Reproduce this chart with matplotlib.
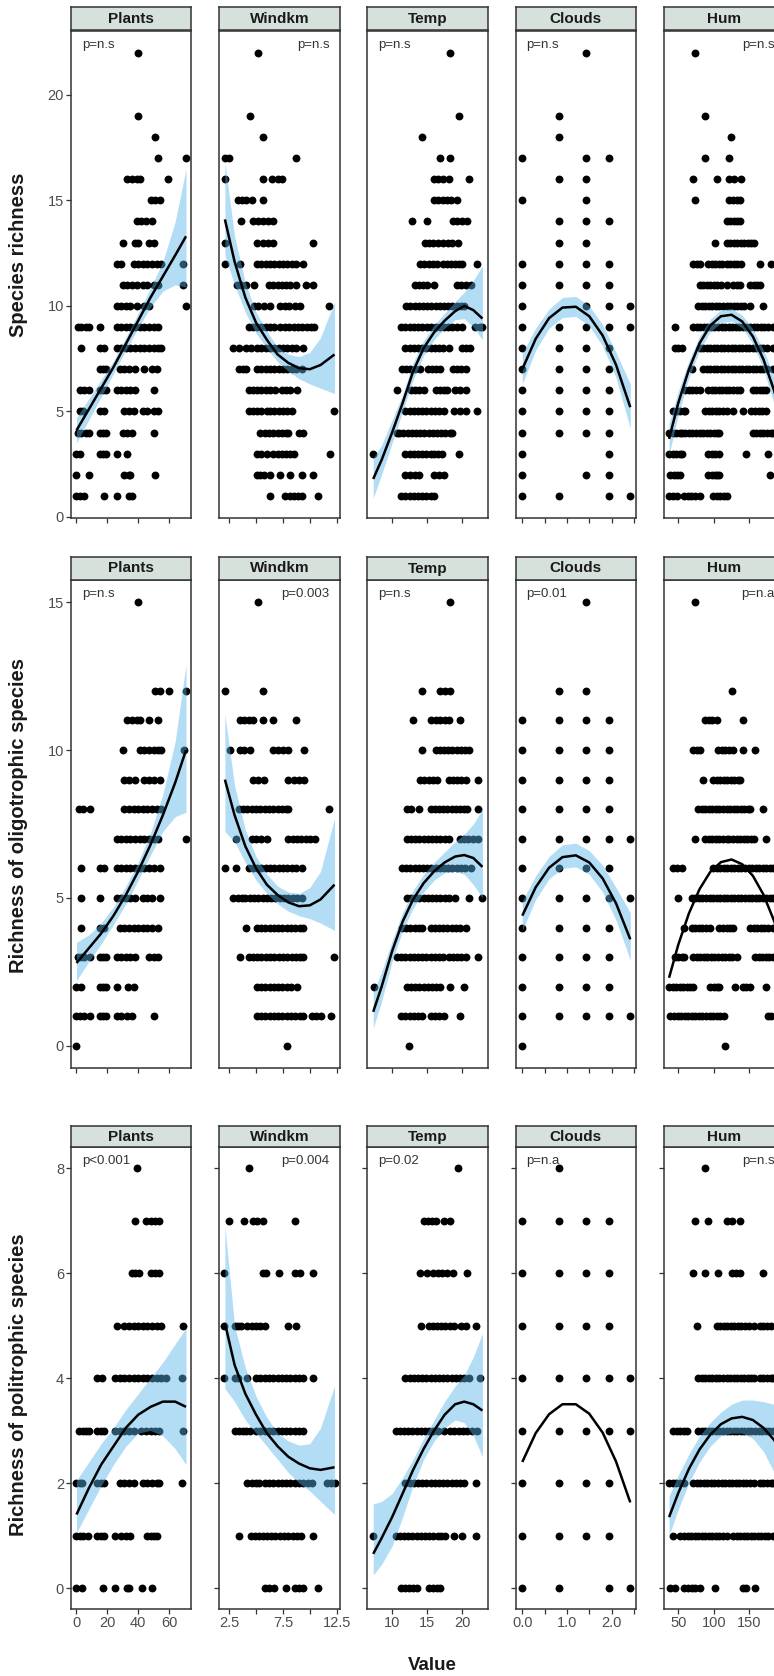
import matplotlib.pyplot as plt

plt.rcParams['font.family'] = ['Liberation Sans', 'DejaVu Sans']

W, H = 774, 1676

variables = ['Plants', 'Windkm', 'Temp', 'Clouds', 'Hum']
x_limits = [(-3.55, 74.55), (1.57, 12.78), (6.47, 23.68), (-0.15, 2.55), (29.6, 199.3)]
x_ticks = [[0, 20, 40, 60], [2.5, 5, 7.5, 10, 12.5], [10, 15, 20],
           [0, 0.5, 1, 1.5, 2, 2.5], [50, 100, 150]]
x_ticklabels = [['0', '20', '40', '60'], ['2.5', '', '7.5', '', '12.5'], ['10', '15', '20'],
                ['0.0', '', '1.0', '', '2.0', ''], ['50', '100', '150']]

row_labels = ['Species richness', 'Richness of oligotrophic species',
              'Richness of politrophic species']
y_limits = [(-0.05, 23.05), (-0.75, 15.75), (-0.4, 8.4)]
y_ticks = [[0, 5, 10, 15, 20], [0, 5, 10, 15], [0, 2, 4, 6, 8]]

p_labels = [['p=n.s', 'p=n.s', 'p=n.s', 'p=n.s', 'p=n.s'],
            ['p=n.s', 'p=0.003', 'p=n.s', 'p=0.01', 'p=n.a'],
            ['p<0.001', 'p=0.004', 'p=0.02', 'p=n.a', 'p=n.s']]
p_right = [False, True, False, False, True]

# x grids where the fitted curves were read
plants_grid = [0, 8, 16, 24, 32, 40, 48, 56, 64, 71]
windkm_grid = [2.1, 3, 4, 5, 6, 7, 8, 9, 10, 11, 12.3]
temp_grid = [7.3, 8.5, 10, 11.5, 13, 14.5, 16, 17.5, 19, 20.3, 21.6, 22.9]
clouds_grid = [0, 0.3, 0.6, 0.9, 1.2, 1.5, 1.8, 2.1, 2.42]
hum_grid = [37, 50, 65, 80, 95, 110, 125, 140, 155, 170, 185, 200]

# ---- species richness: points (y, [x...])
rich_plants = [
    (22, [40]), (19, [40]), (18, [51]), (17, [53, 71]), (16, [33, 36, 39, 41, 59]),
    (15, [48, 51, 54]), (14, [39, 42, 45, 49]), (13, [30, 38, 40, 47, 50]),
    (12, [26, 29, 37, 40, 43, 46, 49, 52, 55, 69]),
    (11, [30, 33, 36, 39, 43, 46, 50, 53, 69]),
    (10, [26, 29, 32, 35, 39, 44, 47, 71]),
    (9, [1, 3, 6, 8, 15, 26, 29, 32, 35, 38, 41, 44, 47, 50, 53]),
    (8, [3, 15, 18, 26, 29, 32, 35, 38, 41, 44, 47, 50, 53, 55]),
    (7, [15, 17, 19, 28, 31, 34, 38, 44, 49, 52]),
    (6, [2, 5, 8, 15, 17, 19, 26, 29, 32, 35, 38, 50]),
    (5, [2, 4, 15, 18, 31, 34, 37, 43, 46, 50, 53]),
    (4, [1, 3, 6, 8, 15, 17, 19, 30, 33, 36, 50]),
    (3, [0, 2, 15, 17, 19, 26, 33]), (2, [0, 8, 31, 34, 35, 51]),
    (1, [0, 2, 5, 18, 26, 34, 36]),
]
rich_windkm = [
    (22, [5.15]), (19, [4.4]), (18, [5.6]), (17, [2.1, 2.5, 8.7]),
    (16, [2.1, 5.6, 6.5, 7.0, 7.4]), (15, [3.3, 3.7, 4.1, 4.6, 5.6]),
    (14, [3.6, 4.75, 5.15, 5.6, 6.1, 6.6]), (13, [2.1, 5.1, 5.6, 6.1, 6.6, 10.25]),
    (12, [2.1, 3.5, 5.1, 5.5, 5.9, 6.3, 6.7, 7.1, 7.5, 7.9, 8.3, 8.7, 9.4]),
    (11, [3.2, 3.6, 4.1, 4.8, 6.2, 6.6, 7.0, 7.4, 7.8, 8.2, 8.7, 9.6, 10.25]),
    (10, [4.8, 5.2, 5.7, 6.3, 7.25, 7.7, 8.1, 8.6, 9.1, 11.8]),
    (9, [4.3, 4.7, 5.1, 5.5, 5.9, 6.3, 6.7, 7.25, 7.7, 8.1, 8.5, 8.9, 9.3, 9.7, 10.1, 10.4]),
    (8, [2.9, 3.4, 4.1, 4.5, 5.05, 5.5, 5.9, 6.3, 6.7, 7.1, 7.5, 7.9, 8.3, 8.7, 9.4]),
    (7, [3.4, 3.8, 4.1, 5.05, 5.5, 5.9, 6.3, 6.7, 7.1, 7.5, 7.9, 8.3, 8.7, 9.3]),
    (6, [4.3, 4.7, 5.1, 5.5, 5.9, 6.3, 6.8, 7.4, 7.8, 8.2, 8.8]),
    (5, [4.3, 4.7, 5.1, 5.5, 6.0, 6.3, 6.7, 7.1, 7.5, 7.9, 8.3, 12.25]),
    (4, [5.4, 5.8, 6.2, 6.6, 7.0, 7.4, 7.8, 8.0, 9.0, 9.4]),
    (3, [5.05, 5.5, 6.0, 6.6, 7.0, 7.4, 7.8, 8.2, 8.5, 11.9]),
    (2, [5.05, 5.4, 5.7, 6.3, 7.25, 8.2, 9.3, 10.25]),
    (1, [6.25, 7.7, 8.2, 8.5, 8.9, 9.3, 10.8]),
]
rich_temp = [
    (22, [18.3]), (19, [19.6]), (18, [14.3]), (17, [16.9, 18.3]),
    (16, [16.0, 16.6, 17.2, 18.1, 21.0]), (15, [16.0, 16.6, 17.2, 17.8, 18.4, 19.3]),
    (14, [12.9, 15.0, 18.7, 19.3, 20.0, 20.7]),
    (13, [14.7, 15.3, 15.9, 16.5, 17.3, 18.0, 18.6, 19.4]),
    (12, [14.0, 14.6, 15.2, 15.8, 16.4, 17.2, 17.8, 18.4, 19.0, 19.6, 20.0, 22.1]),
    (11, [13.2, 13.8, 14.4, 15.0, 16.0, 19.2, 19.8, 20.5, 21.2]),
    (10, [12.0, 12.6, 13.2, 13.8, 14.4, 15.0, 15.6, 16.2, 16.8, 17.4, 18.0, 18.6, 19.2, 19.8, 20.2]),
    (9, [11.3, 11.9, 12.5, 13.1, 13.7, 14.3, 15.0, 15.6, 16.2, 16.8, 17.4, 18.0, 18.6, 19.2,
         20.0, 21.9, 22.5, 22.9]),
    (8, [11.9, 12.5, 13.1, 13.7, 14.3, 14.9, 15.5, 16.1, 16.7, 17.3, 18.1, 20.0, 20.6, 21.1]),
    (7, [11.4, 12.0, 12.6, 13.3, 14.0, 15.1, 15.7, 16.3, 16.9, 18.7, 19.3, 19.9, 20.5]),
    (6, [10.7, 12.7, 13.3, 13.9, 14.5, 16.2, 16.8, 17.4, 17.9, 19.0, 19.7, 20.5]),
    (5, [11.9, 12.5, 13.1, 13.7, 14.3, 14.9, 15.5, 16.1, 16.7, 17.4, 18.9, 19.7, 20.5, 22.1]),
    (4, [10.7, 11.0, 11.6, 12.2, 12.8, 13.4, 14.0, 14.6, 15.2, 15.8, 16.4, 17.0, 17.6, 18.2, 18.6]),
    (3, [7.3, 11.9, 12.5, 13.1, 13.7, 14.3, 14.9, 15.5, 16.0, 16.6, 17.1, 19.6]),
    (2, [11.9, 12.5, 13.2, 13.8, 16.0, 16.7, 17.4]),
    (1, [11.3, 11.9, 12.5, 13.1, 13.7, 14.3, 14.9, 15.5, 16.0]),
]
rich_clouds = [
    (22, [1.43]), (19, [0.82]), (18, [0.82]), (17, [0, 1.43, 1.95]), (16, [0.82, 1.43]),
    (15, [0, 1.43]), (14, [0.82, 1.43, 1.95]), (13, [0.82, 1.43]),
    (12, [0, 0.82, 1.43, 1.95]), (11, [0, 0.82, 1.43, 1.95]), (10, [0, 1.43, 1.95, 2.42]),
    (9, [0, 0.82, 1.43, 1.95, 2.42]), (8, [0, 0.82, 1.43, 1.95]), (7, [0, 0.82, 1.43, 1.95]),
    (6, [0, 0.82, 1.43, 1.95]), (5, [0, 0.82, 1.43, 1.95]), (4, [0, 0.82, 1.43, 1.95]),
    (3, [0, 1.95]), (2, [0, 1.43, 1.95]), (1, [0, 0.82, 1.95, 2.42]),
]
rich_hum = [
    (22, [73]), (19, [88]), (18, [124]), (17, [88, 122]), (16, [71, 105, 122, 128, 139]),
    (15, [73, 122, 127, 132, 137]), (14, [118, 123, 128, 133, 137]),
    (13, [102, 118, 123, 128, 133, 138, 143, 148, 152, 156]),
    (12, [71, 76, 80, 92, 97, 102, 107, 112, 118, 123, 128, 133, 139, 165, 181]),
    (11, [80, 85, 90, 95, 100, 105, 110, 118, 127, 132, 137, 151, 156, 161, 165]),
    (10, [78, 83, 88, 93, 98, 103, 108, 113, 118, 123, 128, 133, 138, 143, 151, 169]),
    (9, [45, 71, 76, 81, 86, 91, 96, 101, 106, 111, 116, 121, 126, 131, 136, 141, 146, 151,
         156, 161, 166, 171, 176, 183]),
    (8, [45, 50, 55, 80, 85, 90, 95, 100, 105, 110, 115, 120, 125, 130, 135, 140, 145, 150,
         155, 160, 165, 170, 175, 183]),
    (7, [69, 85, 90, 95, 100, 105, 110, 115, 120, 125, 130, 135, 140, 145, 150, 155, 160,
         165, 170, 175, 183]),
    (6, [60, 65, 70, 75, 80, 92, 97, 102, 107, 112, 117, 122, 127, 132, 137, 155, 160, 165,
         170, 174]),
    (5, [43, 48, 53, 58, 60, 88, 93, 98, 103, 108, 113, 118, 127, 141, 153, 158, 163, 168, 174]),
    (4, [37, 42, 47, 52, 55, 60, 65, 70, 75, 80, 85, 90, 95, 100, 105, 108, 155, 160, 165,
         170, 175, 180, 183]),
    (3, [37, 42, 47, 52, 55, 92, 97, 102, 108, 146, 176]),
    (2, [39, 44, 48, 53, 92, 97, 102, 104, 108, 179]),
    (1, [37, 42, 48, 58, 63, 68, 73, 80, 99, 104, 109, 114, 118]),
]

# ---- oligotrophic species: points
oligo_plants = [
    (15, [40]), (12, [51, 54, 60, 71]), (11, [33, 36, 39, 41, 47, 53]),
    (10, [30, 41, 44, 47, 50, 53, 55, 69.5]), (9, [31, 34, 38, 44, 47, 50, 54]),
    (8, [1.5, 4, 8.5, 31, 34, 37, 40, 43, 46, 49, 52, 55]),
    (7, [26, 29, 32, 35, 38, 41, 44, 47, 50, 53, 71]),
    (6, [3, 15, 18, 26, 29, 32, 35, 38, 41, 44, 47, 50, 54]),
    (5, [3, 15, 26, 29, 32, 35, 38, 43, 46, 49, 54]),
    (4, [3, 15, 18, 28, 31, 34, 37, 40, 43, 46, 49, 53]),
    (3, [1, 3, 5, 8.5, 15, 17, 19, 26, 29, 32, 35, 38, 47, 50, 53]),
    (2, [0, 3, 15, 17, 19, 26, 33.5, 37]),
    (1, [0, 2, 5, 8.5, 15, 17, 19, 26, 29, 33, 36, 50.5]), (0, [0]),
]
oligo_windkm = [
    (15, [5.15]), (12, [2.1, 5.6]), (11, [3.5, 3.9, 4.3, 4.75, 5.6, 6.6, 8.7]),
    (10, [2.55, 3.5, 3.9, 4.4, 6.6, 7.0, 7.5, 8.0, 9.5]),
    (9, [4.75, 5.2, 5.7, 8.0, 8.5, 9.0, 9.5]),
    (8, [3.4, 3.8, 4.2, 4.6, 5.0, 5.4, 5.8, 6.2, 6.6, 7.0, 7.4, 7.8, 8.0, 11.8]),
    (7, [3.1, 4.6, 5.0, 5.5, 6.0, 8.0, 8.4, 8.8, 9.2, 9.6, 10.0, 10.5]),
    (6, [2.1, 3.1, 4.3, 4.7, 5.1, 5.5, 5.9, 6.3, 6.7, 7.1, 7.5, 7.9, 8.3, 8.7, 9.3]),
    (5, [2.9, 3.3, 3.7, 4.0, 4.4, 4.8, 5.2, 5.6, 6.0, 6.4, 6.8, 7.2, 7.6, 8.0, 8.4, 8.8, 9.3]),
    (4, [4.05, 5.05, 5.45, 5.85, 6.25, 6.65, 7.05, 7.45, 7.85, 8.25, 8.65, 9.05, 9.4]),
    (3, [3.5, 4.3, 4.7, 5.1, 5.5, 5.9, 6.3, 6.7, 7.1, 7.5, 7.9, 8.3, 8.7, 9.1, 9.4, 12.25]),
    (2, [5.05, 5.45, 5.85, 6.25, 6.65, 7.05, 7.45, 7.85, 8.25, 8.8]),
    (1, [5.05, 5.45, 5.85, 6.25, 6.65, 7.05, 7.45, 7.85, 8.25, 8.65, 9.05, 9.4, 10.2, 10.6,
         11.0, 12.0]),
    (0, [7.9]),
]
oligo_temp = [
    (15, [18.3]), (12, [14.3, 16.9, 17.6, 18.3]), (11, [13.0, 15.5, 16.2, 16.9, 17.5, 18.1, 19.7]),
    (10, [14.3, 16.2, 16.8, 17.4, 18.0, 18.6, 19.2, 19.8, 20.4, 21.0]),
    (9, [14.0, 14.6, 15.2, 15.8, 16.4, 18.1, 18.7, 19.3, 19.9, 20.5, 22.2]),
    (8, [12.1, 12.7, 13.8, 15.5, 16.1, 16.7, 17.3, 17.9, 18.5, 19.1, 19.7, 20.3, 20.7, 22.2]),
    (7, [12.1, 12.7, 13.3, 13.9, 14.5, 15.1, 15.7, 16.3, 16.9, 17.5, 18.1, 19.7, 20.3, 20.9,
         21.5, 22.2]),
    (6, [11.4, 12.0, 12.6, 13.2, 13.8, 14.4, 15.0, 15.6, 16.2, 16.8, 17.4, 18.0, 18.6, 19.2,
         19.8, 20.4, 21.2]),
    (5, [12.1, 12.7, 13.3, 13.9, 14.5, 15.1, 15.7, 16.3, 16.9, 17.5, 18.1, 19.0, 21.0, 22.9]),
    (4, [11.4, 12.0, 12.6, 13.2, 13.8, 14.3, 15.5, 16.1, 16.7, 17.3, 17.9, 18.5, 19.1, 19.7, 20.5]),
    (3, [10.7, 11.3, 11.9, 12.5, 13.1, 13.7, 14.3, 14.9, 15.5, 16.1, 16.7, 17.3, 18.1, 18.7,
         19.3, 19.9, 20.5, 22.2]),
    (2, [7.4, 12.1, 12.7, 13.3, 13.9, 14.5, 15.1, 15.7, 16.3, 16.9, 18.3, 20.2]),
    (1, [11.3, 11.9, 12.5, 13.1, 13.7, 14.3, 15.5, 16.1, 16.7, 17.4, 19.7]),
    (0, [12.4]),
]
oligo_clouds = [
    (15, [1.43]), (12, [0.82, 1.43]), (11, [0, 0.82, 1.43, 1.95]), (10, [0, 0.82, 1.43, 1.95]),
    (9, [0, 0.82, 1.43, 1.95]), (8, [0, 0.82, 1.43, 1.95]), (7, [0, 0.82, 1.43, 1.95, 2.42]),
    (6, [0, 0.82, 1.43, 1.95]), (5, [0, 0.82, 1.43, 1.95, 2.42]), (4, [0, 0.82, 1.43, 1.95]),
    (3, [0, 0.82, 1.43, 1.95]), (2, [0, 0.82, 1.43, 1.95]), (1, [0, 0.82, 1.43, 1.95, 2.42]),
    (0, [0]),
]
oligo_hum = [
    (15, [73.5]), (12, [125]), (11, [88, 93, 98, 104, 141]),
    (10, [71, 76, 80, 106, 111, 116, 121, 127, 141, 158]),
    (9, [85, 99, 104, 109, 114, 119, 124, 129, 134, 137]),
    (8, [78, 83, 88, 93, 98, 103, 108, 113, 118, 123, 128, 133, 138, 143, 148, 151, 170]),
    (7, [73.5, 88, 93, 98, 103, 108, 113, 118, 122, 127, 132, 137, 142, 147, 152, 156, 174]),
    (6, [43, 48, 55, 99, 104, 109, 114, 119, 124, 129, 134, 139, 144, 149, 154, 159, 164,
         169, 174, 179, 183]),
    (5, [49, 69, 74, 79, 84, 89, 94, 99, 104, 109, 114, 119, 124, 129, 134, 139, 144, 149,
         154, 159, 164, 169, 174, 179, 183]),
    (4, [58, 69, 74, 79, 84, 89, 95, 108, 113, 118, 123, 127, 151, 156, 161, 166, 171, 176, 183]),
    (3, [45, 50, 55, 58, 71, 76, 81, 86, 91, 96, 101, 106, 111, 116, 121, 126, 132, 158, 163,
         168, 173, 178, 183]),
    (2, [37, 42, 47, 52, 57, 62, 67, 71, 95, 100, 105, 108, 130, 141, 146, 151, 173]),
    (1, [39, 44, 49, 54, 59, 64, 69, 74, 79, 84, 89, 94, 99, 104, 109, 114, 176, 181]),
    (0, [116]),
]

# ---- politrophic species: points
poli_plants = [
    (8, [39]), (7, [38, 45, 48, 51, 53.5]), (6, [36, 38, 40.5, 48, 51, 53.5]),
    (5, [26, 31, 34, 37, 40, 43, 46, 49, 52, 54.5, 69]),
    (4, [13.4, 16.7, 25, 28, 31, 34, 37, 40, 43, 46, 49, 52, 54.5, 58, 68.6]),
    (3, [1.5, 4, 6, 8, 13.4, 16, 18, 25, 28, 31, 34, 37, 42, 45, 48, 51, 53.5, 69]),
    (2, [0, 2, 3.7, 13.4, 16, 18, 28, 31, 34, 37, 43, 46, 49, 52, 53.5, 68.6]),
    (1, [0, 2, 4, 7.4, 13.4, 16, 18, 25, 29, 32, 35, 45.5, 48, 50, 52]),
    (0, [0, 3.7, 17, 25, 33, 34, 42.6, 48.7]),
]
poli_windkm = [
    (8, [4.3]), (7, [2.5, 3.9, 4.7, 5.1, 5.6, 8.6]), (6, [2.0, 5.6, 5.9, 7.1, 8.6, 9.1, 10.25]),
    (5, [2.0, 3.0, 3.3, 3.6, 4.2, 4.6, 5.0, 5.4, 5.8, 8.0, 8.75]),
    (4, [2.0, 3.0, 3.3, 4.2, 5.0, 5.4, 5.8, 6.2, 6.6, 7.0, 7.4, 7.8, 8.2, 8.6, 9.0, 9.4, 10.25]),
    (3, [3.0, 3.4, 3.8, 4.1, 4.4, 5.0, 5.4, 5.8, 6.2, 6.6, 7.0, 7.4, 7.8, 8.2, 8.6, 9.0, 9.4]),
    (2, [4.2, 4.6, 5.0, 5.3, 5.8, 6.2, 6.6, 7.0, 7.4, 7.8, 8.2, 8.6, 9.0, 9.4, 9.8, 10.2,
         11.6, 12.0, 12.3]),
    (1, [3.4, 4.5, 4.9, 5.3, 5.6, 6.0, 6.4, 6.8, 7.2, 7.6, 8.0, 8.4, 8.8, 9.2, 10.25]),
    (0, [5.8, 6.2, 6.7, 7.8, 8.6, 9.0, 9.4, 10.8]),
]
poli_temp = [
    (8, [19.4]), (7, [14.5, 15.1, 15.7, 16.2, 17.4, 18.3]),
    (6, [14.0, 15.0, 15.9, 16.5, 17.1, 17.9, 18.7, 20.7]),
    (5, [14.1, 15.2, 15.8, 16.4, 17.0, 17.6, 18.2, 18.8, 19.8, 20.5, 22.0]),
    (4, [11.9, 12.5, 13.1, 13.7, 14.3, 14.9, 15.5, 16.1, 16.7, 17.3, 17.9, 18.5, 19.1, 19.7,
         20.3, 21.0, 22.6]),
    (3, [10.5, 11.1, 11.7, 12.3, 12.9, 13.5, 14.1, 14.7, 15.3, 15.9, 16.5, 17.4, 18.3, 18.9,
         19.5, 20.1, 20.7, 21.4, 22.1]),
    (2, [11.9, 12.5, 13.1, 13.7, 14.3, 14.9, 15.5, 16.1, 16.7, 17.3, 17.9, 18.5, 19.1, 19.7,
         20.2, 22.0]),
    (1, [7.3, 10.5, 11.1, 11.7, 12.3, 12.9, 13.5, 14.1, 14.7, 15.3, 15.9, 16.5, 17.0, 17.6,
         18.8, 20.0, 22.0]),
    (0, [11.2, 11.8, 12.4, 13.0, 13.6, 15.2, 15.8, 16.4, 16.9]),
]
poli_clouds = [
    (8, [0.82]), (7, [0, 0.82, 1.43, 1.95]), (6, [0, 0.82, 1.43, 1.95]),
    (5, [0, 0.82, 1.43, 1.95]), (4, [0, 0.82, 1.43, 1.95, 2.42]),
    (3, [0, 0.82, 1.43, 1.95, 2.42]), (2, [0, 0.82, 1.43, 1.95]), (1, [0, 0.82, 1.43, 1.95]),
    (0, [0, 0.82, 1.95, 2.42]),
]
poli_hum = [
    (8, [88]), (7, [73.5, 92, 118, 125, 137]), (6, [71, 88, 106, 125, 131, 137, 170]),
    (5, [77, 104, 109, 114, 119, 124, 129, 134, 139, 144, 149, 156, 165, 170, 175, 181]),
    (4, [78, 83, 88, 93, 98, 103, 108, 113, 118, 123, 128, 133, 138, 143, 148, 153, 156,
         165, 170, 175, 180, 183]),
    (3, [43, 48, 53, 58, 62, 78, 83, 88, 93, 98, 103, 108, 113, 118, 123, 128, 133, 138,
         143, 148, 153, 158, 163, 168, 173, 178, 183]),
    (2, [37, 42, 47, 52, 58, 71, 76, 81, 86, 91, 96, 101, 106, 111, 116, 121, 126, 131, 136,
         141, 146, 151, 156, 165, 170, 175, 180, 183]),
    (1, [43, 53, 58, 63, 68, 73, 78, 83, 88, 93, 98, 103, 108, 113, 118, 127, 132, 137, 142,
         147, 152, 157, 162, 167, 172, 177, 183]),
    (0, [39, 46, 58, 63, 69, 74, 80, 102, 141, 146, 158]),
]

# ---- fitted curves (line, lower and upper band), read on the grids above
rich_plants_fit = [4.1, 5.1, 6.1, 7.1, 8.2, 9.3, 10.4, 11.4, 12.4, 13.3]
rich_plants_lo = [3.5, 4.6, 5.7, 6.8, 7.9, 8.95, 9.95, 10.7, 11.0, 10.9]
rich_plants_hi = [4.7, 5.6, 6.5, 7.4, 8.5, 9.65, 10.85, 12.1, 14.0, 16.5]
rich_windkm_fit = [14.1, 12.1, 10.4, 9.2, 8.4, 7.7, 7.3, 7.05, 7.0, 7.2, 7.7]
rich_windkm_lo = [12.4, 11.0, 9.7, 8.7, 8.0, 7.35, 6.9, 6.55, 6.3, 6.1, 5.85]
rich_windkm_hi = [16.8, 13.3, 11.1, 9.7, 8.8, 8.05, 7.7, 7.6, 7.8, 8.5, 10.2]
rich_temp_fit = [1.8, 2.7, 4.0, 5.4, 6.9, 8.0, 8.75, 9.3, 9.75, 10.0, 9.8, 9.4]
rich_temp_lo = [0.9, 2.0, 3.5, 5.0, 6.5, 7.65, 8.4, 8.95, 9.35, 9.4, 9.0, 8.4]
rich_temp_hi = [2.8, 3.4, 4.6, 5.8, 7.3, 8.35, 9.1, 9.65, 10.2, 10.65, 11.2, 11.9]
rich_clouds_fit = [7.0, 8.44, 9.42, 9.92, 9.96, 9.51, 8.6, 7.21, 5.2]
rich_clouds_lo = [6.3, 7.9, 8.95, 9.45, 9.5, 9.05, 8.1, 6.6, 4.2]
rich_clouds_hi = [7.75, 8.95, 9.85, 10.4, 10.45, 10.0, 9.1, 7.8, 6.3]
rich_hum_fit = [3.7, 5.4, 7.0, 8.23, 9.07, 9.51, 9.58, 9.26, 8.55, 7.46, 5.98, 4.12]
rich_hum_lo = [2.95, 4.85, 6.6, 7.9, 8.77, 9.21, 9.28, 8.96, 8.2, 7.01, 5.33, 3.22]
rich_hum_hi = [4.45, 5.95, 7.4, 8.56, 9.37, 9.81, 9.88, 9.56, 8.9, 7.91, 6.63, 5.02]

oligo_plants_fit = [2.8, 3.3, 3.8, 4.4, 5.1, 5.9, 6.8, 7.8, 8.9, 10.0]
oligo_plants_lo = [2.2, 2.85, 3.45, 4.1, 4.8, 5.6, 6.45, 7.25, 7.75, 7.9]
oligo_plants_hi = [3.5, 3.75, 4.15, 4.7, 5.4, 6.2, 7.2, 8.5, 10.3, 12.9]
oligo_windkm_fit = [9.0, 7.8, 6.75, 6.0, 5.45, 5.1, 4.85, 4.72, 4.75, 4.95, 5.45]
oligo_windkm_lo = [7.25, 6.9, 6.2, 5.6, 5.15, 4.8, 4.55, 4.4, 4.3, 4.15, 3.9]
oligo_windkm_hi = [11.2, 8.8, 7.3, 6.4, 5.8, 5.4, 5.2, 5.15, 5.35, 5.9, 7.7]
oligo_temp_fit = [1.15, 2.0, 3.2, 4.2, 4.95, 5.5, 5.9, 6.2, 6.4, 6.45, 6.35, 6.05]
oligo_temp_lo = [0.6, 1.5, 2.85, 3.9, 4.65, 5.2, 5.6, 5.85, 5.9, 5.8, 5.45, 5.0]
oligo_temp_hi = [1.8, 2.5, 3.55, 4.5, 5.25, 5.8, 6.2, 6.55, 6.9, 7.15, 7.5, 8.0]
oligo_clouds_fit = [4.4, 5.36, 6.02, 6.38, 6.44, 6.2, 5.66, 4.82, 3.6]
oligo_clouds_lo = [3.9, 4.95, 5.65, 6.0, 6.05, 5.8, 5.2, 4.25, 2.9]
oligo_clouds_hi = [4.9, 5.75, 6.4, 6.8, 6.85, 6.6, 6.1, 5.35, 4.5]
oligo_hum_fit = [2.3, 3.42, 4.48, 5.3, 5.88, 6.21, 6.3, 6.14, 5.75, 5.11, 4.22, 3.1]

poli_plants_fit = [1.4, 1.9, 2.35, 2.7, 3.05, 3.3, 3.45, 3.55, 3.55, 3.45]
poli_plants_lo = [1.05, 1.5, 1.95, 2.35, 2.7, 2.95, 3.0, 2.9, 2.65, 2.35]
poli_plants_hi = [2.05, 2.4, 2.75, 3.05, 3.4, 3.7, 4.0, 4.3, 4.65, 4.95]
poli_windkm_fit = [5.05, 4.25, 3.7, 3.3, 2.95, 2.7, 2.5, 2.37, 2.28, 2.25, 2.3]
poli_windkm_lo = [3.8, 3.55, 3.2, 2.95, 2.7, 2.45, 2.2, 2.0, 1.85, 1.65, 1.4]
poli_windkm_hi = [6.9, 5.0, 4.2, 3.65, 3.25, 2.95, 2.8, 2.72, 2.75, 3.05, 3.85]
poli_temp_fit = [0.65, 0.95, 1.35, 1.8, 2.25, 2.65, 3.0, 3.3, 3.5, 3.55, 3.5, 3.38]
poli_temp_lo = [0.25, 0.45, 0.8, 1.35, 1.95, 2.45, 2.8, 3.05, 3.2, 3.15, 2.9, 2.5]
poli_temp_hi = [1.6, 1.65, 1.8, 2.1, 2.45, 2.85, 3.2, 3.55, 3.85, 4.05, 4.4, 4.85]
poli_clouds_fit = [2.4, 2.95, 3.31, 3.5, 3.5, 3.32, 2.96, 2.41, 1.63]
poli_hum_fit = [1.35, 1.81, 2.27, 2.64, 2.92, 3.12, 3.23, 3.26, 3.2, 3.05, 2.82, 2.5]
poli_hum_lo = [1.0, 1.5, 2.0, 2.4, 2.7, 2.9, 2.95, 2.95, 2.85, 2.6, 2.2, 1.7]
poli_hum_hi = [1.75, 2.15, 2.55, 2.9, 3.15, 3.35, 3.5, 3.58, 3.58, 3.55, 3.5, 3.4]

grids = [plants_grid, windkm_grid, temp_grid, clouds_grid, hum_grid]
points = [
    [rich_plants, rich_windkm, rich_temp, rich_clouds, rich_hum],
    [oligo_plants, oligo_windkm, oligo_temp, oligo_clouds, oligo_hum],
    [poli_plants, poli_windkm, poli_temp, poli_clouds, poli_hum],
]
fits = [
    [(rich_plants_fit, rich_plants_lo, rich_plants_hi),
     (rich_windkm_fit, rich_windkm_lo, rich_windkm_hi),
     (rich_temp_fit, rich_temp_lo, rich_temp_hi),
     (rich_clouds_fit, rich_clouds_lo, rich_clouds_hi),
     (rich_hum_fit, rich_hum_lo, rich_hum_hi)],
    [(oligo_plants_fit, oligo_plants_lo, oligo_plants_hi),
     (oligo_windkm_fit, oligo_windkm_lo, oligo_windkm_hi),
     (oligo_temp_fit, oligo_temp_lo, oligo_temp_hi),
     (oligo_clouds_fit, oligo_clouds_lo, oligo_clouds_hi),
     (oligo_hum_fit, None, None)],
    [(poli_plants_fit, poli_plants_lo, poli_plants_hi),
     (poli_windkm_fit, poli_windkm_lo, poli_windkm_hi),
     (poli_temp_fit, poli_temp_lo, poli_temp_hi),
     (poli_clouds_fit, None, None),
     (poli_hum_fit, poli_hum_lo, poli_hum_hi)],
]

# layout in pixels (top, strip bottom, panel bottom) per row
row_boxes = [(7.5, 30.5, 518), (557, 580, 1068), (1126, 1147, 1609)]
label_centers = [255, 815, 1385]
panel_left0, panel_pitch, panel_w = 71, 148.2, 120.5

DARK = '#333333'
TICK_GREY = '#4D4D4D'

fig = plt.figure(figsize=(W / 100, H / 100), dpi=100)

for r in range(3):
    top, strip_bot, bot = row_boxes[r]
    for c, var in enumerate(variables):
        left = panel_left0 + panel_pitch * c
        ax = fig.add_axes([left / W, 1 - bot / H, panel_w / W, (bot - strip_bot) / H])
        ax.set_xlim(*x_limits[c])
        ax.set_ylim(*y_limits[r])

        xs, ys = [], []
        for yv, row_x in points[r][c]:
            xs += row_x
            ys += [yv] * len(row_x)
        ax.scatter(xs, ys, s=32, color='black', linewidths=0, zorder=2)

        line, lo, hi = fits[r][c]
        if lo is not None:
            ax.fill_between(grids[c], lo, hi, color='#56B4E9', alpha=0.45, lw=0, zorder=3)
        ax.plot(grids[c], line, color='black', lw=1.8, zorder=4, solid_capstyle='butt')

        for s in ax.spines.values():
            s.set_color(DARK)
            s.set_linewidth(1.1)

        ax.set_xticks(x_ticks[c])
        if r == 2:
            ax.set_xticklabels(x_ticklabels[c])
        else:
            ax.set_xticklabels([])
        ax.set_yticks(y_ticks[r])
        if c == 0:
            ax.set_yticklabels([str(v) for v in y_ticks[r]])
            ax.tick_params(axis='y', length=3.5, width=0.9, color=DARK,
                           labelsize=10.5, labelcolor=TICK_GREY, pad=1.5)
        else:
            ax.set_yticklabels([])
            ax.tick_params(axis='y', length=3.5 if r == 2 else 0, width=0.9, color=DARK)
        ax.tick_params(axis='x', length=3.5, width=0.9, color=DARK,
                       labelsize=10.5, labelcolor=TICK_GREY, pad=1.5)

        if p_right[c]:
            ax.text(1 - 10 / panel_w, 1 - 14 / (bot - strip_bot), p_labels[r][c],
                    transform=ax.transAxes, ha='right', va='center', fontsize=9.5, color=DARK)
        else:
            ax.text(11 / panel_w, 1 - 14 / (bot - strip_bot), p_labels[r][c],
                    transform=ax.transAxes, ha='left', va='center', fontsize=9.5, color=DARK)

        sax = fig.add_axes([left / W, 1 - strip_bot / H, panel_w / W, (strip_bot - top) / H])
        sax.set_facecolor('#D7E1DC')
        sax.set_xticks([])
        sax.set_yticks([])
        for s in sax.spines.values():
            s.set_color(DARK)
            s.set_linewidth(1.1)
        sax.text(0.5, 0.5, var, transform=sax.transAxes, ha='center', va='center',
                 fontsize=11, fontweight='bold', color='#1A1A1A')

    fig.text(19 / W, 1 - label_centers[r] / H, row_labels[r], rotation=90,
             ha='center', va='center', fontsize=14.5, fontweight='bold', color='#1A1A1A')

fig.text(432 / W, 1 - 1665 / H, 'Value', ha='center', va='center',
         fontsize=13.5, fontweight='bold', color='#1A1A1A')

fig.savefig('out.png', dpi=100)
